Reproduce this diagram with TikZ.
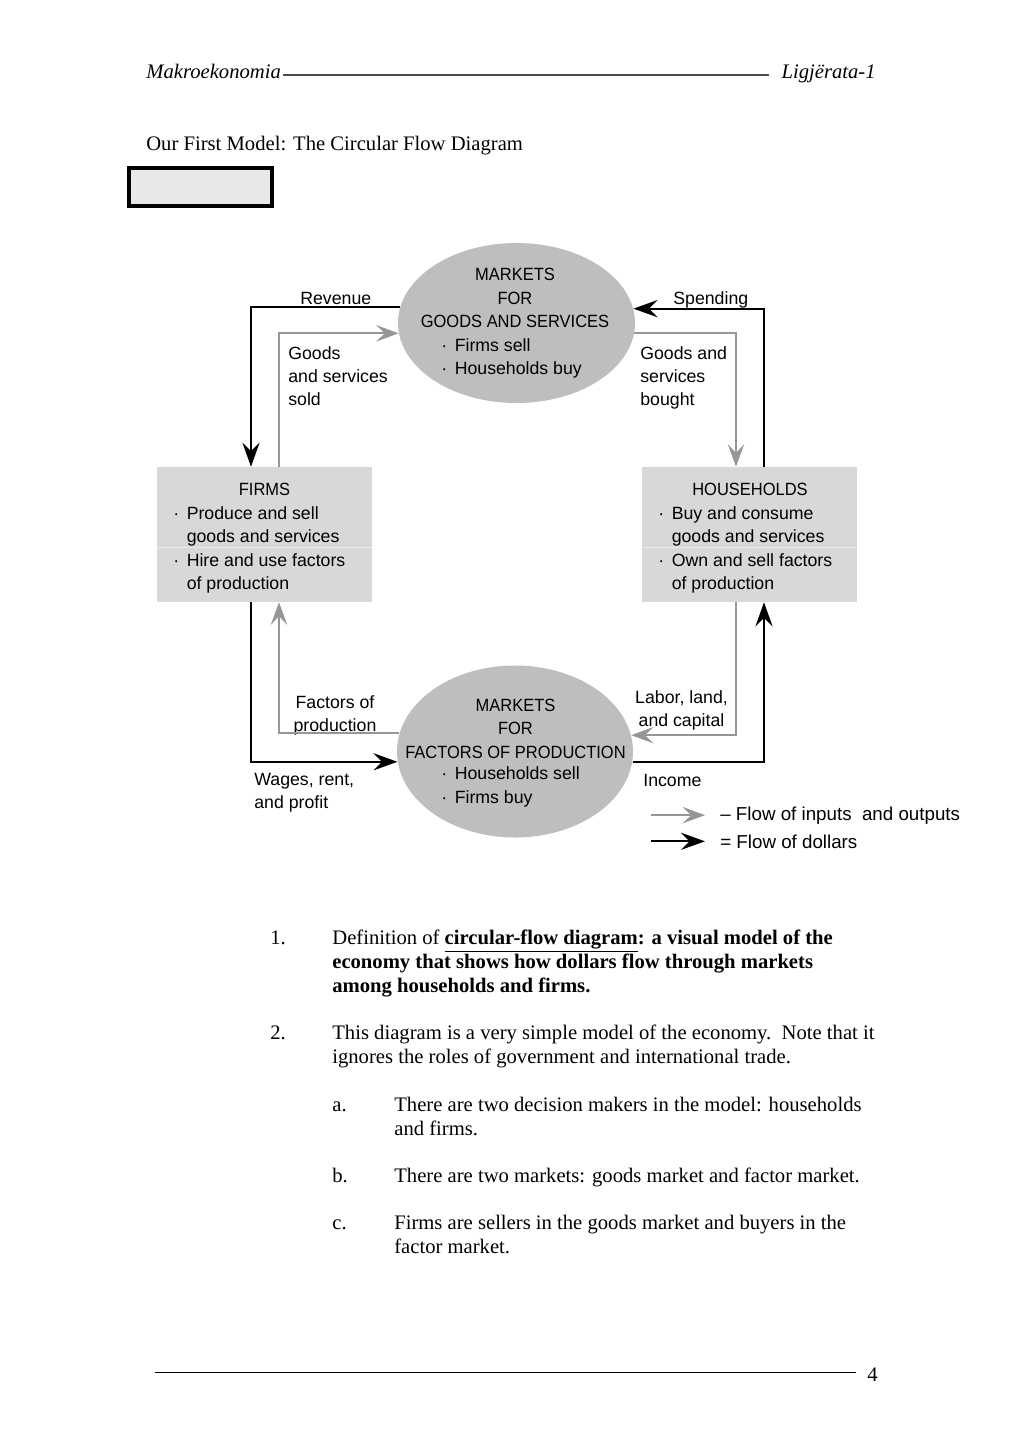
\documentclass[tikz,border=0pt]{standalone}
\usepackage{fontspec}
\setmainfont{Liberation Serif}
\newfontfamily\diagfont{Liberation Sans}
\newfontfamily\capsfont[FakeStretch=0.93]{Liberation Sans}
\usetikzlibrary{arrows.meta,calc,shapes.geometric}
\newlength\pxu
\setlength\pxu{0.5813pt}
\definecolor{boxgray}{RGB}{216,216,216}
\definecolor{mktgray}{RGB}{190,190,190}
\definecolor{flowgray}{RGB}{150,150,150}
\definecolor{blankgray}{RGB}{232,232,232}
\newcommand\dotitem{\makebox[7.8pt][l]{\textperiodcentered}}
\newcommand\dotindent{\hspace*{7.8pt}}
\tikzset{
  sector/.style={rectangle, fill=boxgray, minimum width=215\pxu, minimum height=135\pxu, inner sep=0},
  market/.style={ellipse, fill=mktgray, inner sep=0},
  lbl/.style={font=\diagfont\fontsize{10.3}{13.6}\selectfont, inner sep=0},
  caps/.style={font=\capsfont\fontsize{10.3}{13.6}\selectfont, inner sep=0},
  legendtext/.style={font=\diagfont\fontsize{10.9}{13.6}\selectfont, inner sep=0},
  body/.style={font=\fontsize{12}{13.8}\selectfont, inner sep=0},
  money/.style={draw=black, line width=1.2pt, -{Stealth[length=14pt,width=10pt,inset=5pt]}},
  goods/.style={draw=flowgray, line width=1.3pt, -{Stealth[length=13pt,width=9.5pt,inset=5pt]}},
  sepline/.style={draw=white!55!boxgray, line width=0.5pt},
}
\begin{document}
\begin{tikzpicture}[x=0.5813pt, y=-0.5813pt]
  \path[fill=white, use as bounding box] (0,0) rectangle (1024,1449);

  % header
  \node[body, font=\fontsize{12}{13.8}\selectfont\itshape, anchor=base west] (hdrleft) at (146,78) {Makroekonomia};
  \node[body, font=\fontsize{12}{13.8}\selectfont\itshape, anchor=base east] (hdrright) at (876,78) {Ligjërata-1};
  \draw[black!70, line width=0.9pt] ($(hdrleft.base east)+(2,-3)$) -- ($(hdrright.base west)+(-12,-3)$);
  \node[body, anchor=base west] (title) at (146,150) {Our First Model: The Circular Flow Diagram};
  \node[rectangle, draw=black, line width=2.3pt, fill=blankgray, minimum width=143\pxu, minimum height=38\pxu] (blankbox) at (200.5,187) {};

  % the two markets and the two sectors
  \node[market, minimum width=237\pxu, minimum height=160\pxu] (mktgoods) at (516.5,323) {};
  \node[market, minimum width=236\pxu, minimum height=172\pxu] (mktfactors) at (515,751.5) {};
  \node[sector] (firms) at (264.5,534.5) {};
  \node[sector] (households) at (749.5,534.5) {};
  \draw[sepline] ($(firms.west)+(0,12.5)$) -- ($(firms.east)+(0,12.5)$);
  \draw[sepline] ($(households.west)+(0,12.5)$) -- ($(households.east)+(0,12.5)$);

  \node[caps, align=center, anchor=north] (mktgoodstitle) at (515,268) {MARKETS\\FOR\\GOODS AND SERVICES};
  \node[lbl, align=left, anchor=north west] (mktgoodsitems) at (441,338) {\dotitem Firms sell\\\dotitem Households buy};
  \node[caps, align=center, anchor=north] (mktfactorstitle) at (515.5,698.5) {MARKETS\\FOR\\FACTORS OF PRODUCTION};
  \node[lbl, align=left, anchor=north west] (mktfactorsitems) at (441,766.5) {\dotitem Households sell\\\dotitem Firms buy};
  \node[caps, anchor=north] (firmstitle) at (264.5,483) {FIRMS};
  \node[lbl, align=left, anchor=north west] (firmsitems) at (173,506.2) {\dotitem Produce and sell\\\dotindent goods and services\\\dotitem Hire and use factors\\\dotindent of production};
  \node[caps, anchor=north] (hhtitle) at (750,483) {HOUSEHOLDS};
  \node[lbl, align=left, anchor=north west] (hhitems) at (658,506.2) {\dotitem Buy and consume\\\dotindent goods and services\\\dotitem Own and sell factors\\\dotindent of production};

  % flow labels
  \node[lbl, anchor=base west] (revenue) at (300,304) {Revenue};
  \node[lbl, anchor=base west] (spending) at (673,304) {Spending};
  \node[lbl, align=left, anchor=north west] (goodssold) at (288,346) {Goods\\and services\\sold};
  \node[lbl, align=left, anchor=north west] (goodsbought) at (640,346) {Goods and\\services\\bought};
  \node[lbl, align=center, anchor=north] (factors) at (335,695) {Factors of\\production};
  \node[lbl, align=center, anchor=north] (labor) at (681.5,690) {Labor, land,\\and capital};
  \node[lbl, align=left, anchor=north west] (wages) at (254,773) {Wages, rent,\\and profit};
  \node[lbl, anchor=base west] (income) at (643,786) {Income};

  % flows
  \draw[money] (mktgoods.172.15) -| ($(firms.north)+(-13.5,0)$);
  \draw[goods] ($(firms.north)+(14.5,0)$) |- (mktgoods.185.85);
  \draw[money] ($(households.north)+(14.5,0)$) |- (mktgoods.7.85);
  \draw[goods] (mktgoods.-5.85) -| ($(households.north)+(-13.5,0)$);
  \draw[money] ($(firms.south)+(-13.5,0)$) |- (mktfactors.185.6);
  \draw[goods] (mktfactors.171.9) -| ($(firms.south)+(14.5,0)$);
  \draw[goods] ($(households.south)+(-13.5,0)$) |- (mktfactors.8.1);
  \draw[money] (mktfactors.-5.6) -| ($(households.south)+(14.5,0)$);

  % legend
  \node[legendtext, anchor=base west] (leggoods) at (720,820) {– Flow of inputs\ \ and outputs};
  \node[legendtext, anchor=base west] (legmoney) at (720,848) {= Flow of dollars};
  \draw[goods] ($(leggoods.west)+(-69,0)$) -- ($(leggoods.west)+(-15,0)$);
  \draw[money] ($(legmoney.west)+(-69,0)$) -- ($(legmoney.west)+(-15,0)$);

  % notes
  \node[body, anchor=base west] (numone) at (270,944) {1.};
  \node[body, align=left, anchor=north west] (defn) at (332,929.8) {Definition of \textbf{\underline{circular-flow diagram}: a visual model of the}\\\textbf{economy that shows how dollars flow through markets}\\\textbf{among households and firms.}};
  \node[body, anchor=base west] (numtwo) at (270,1039) {2.};
  \node[body, align=left, anchor=north west] (simple) at (332,1024.9) {This diagram is a very simple model of the economy.\ \ Note that it\\ignores the roles of government and international trade.};
  \node[body, anchor=base west] (lettera) at (332,1111) {a.};
  \node[body, align=left, anchor=north west] (deciders) at (394,1096.9) {There are two decision makers in the model: households\\and firms.};
  \node[body, anchor=base west] (letterb) at (332,1182) {b.};
  \node[body, anchor=base west] (twomarkets) at (394,1182) {There are two markets: goods market and factor market.};
  \node[body, anchor=base west] (letterc) at (332,1229) {c.};
  \node[body, align=left, anchor=north west] (sellers) at (394,1214.9) {Firms are sellers in the goods market and buyers in the\\factor market.};

  % footer
  \coordinate (footstart) at (155,1372);
  \node[body, anchor=base west] (pagenum) at (867,1381) {4};
  \draw[black, line width=0.6pt] (footstart) -- ($(pagenum.base west)+(-11,-9)$);
\end{tikzpicture}
\end{document}
